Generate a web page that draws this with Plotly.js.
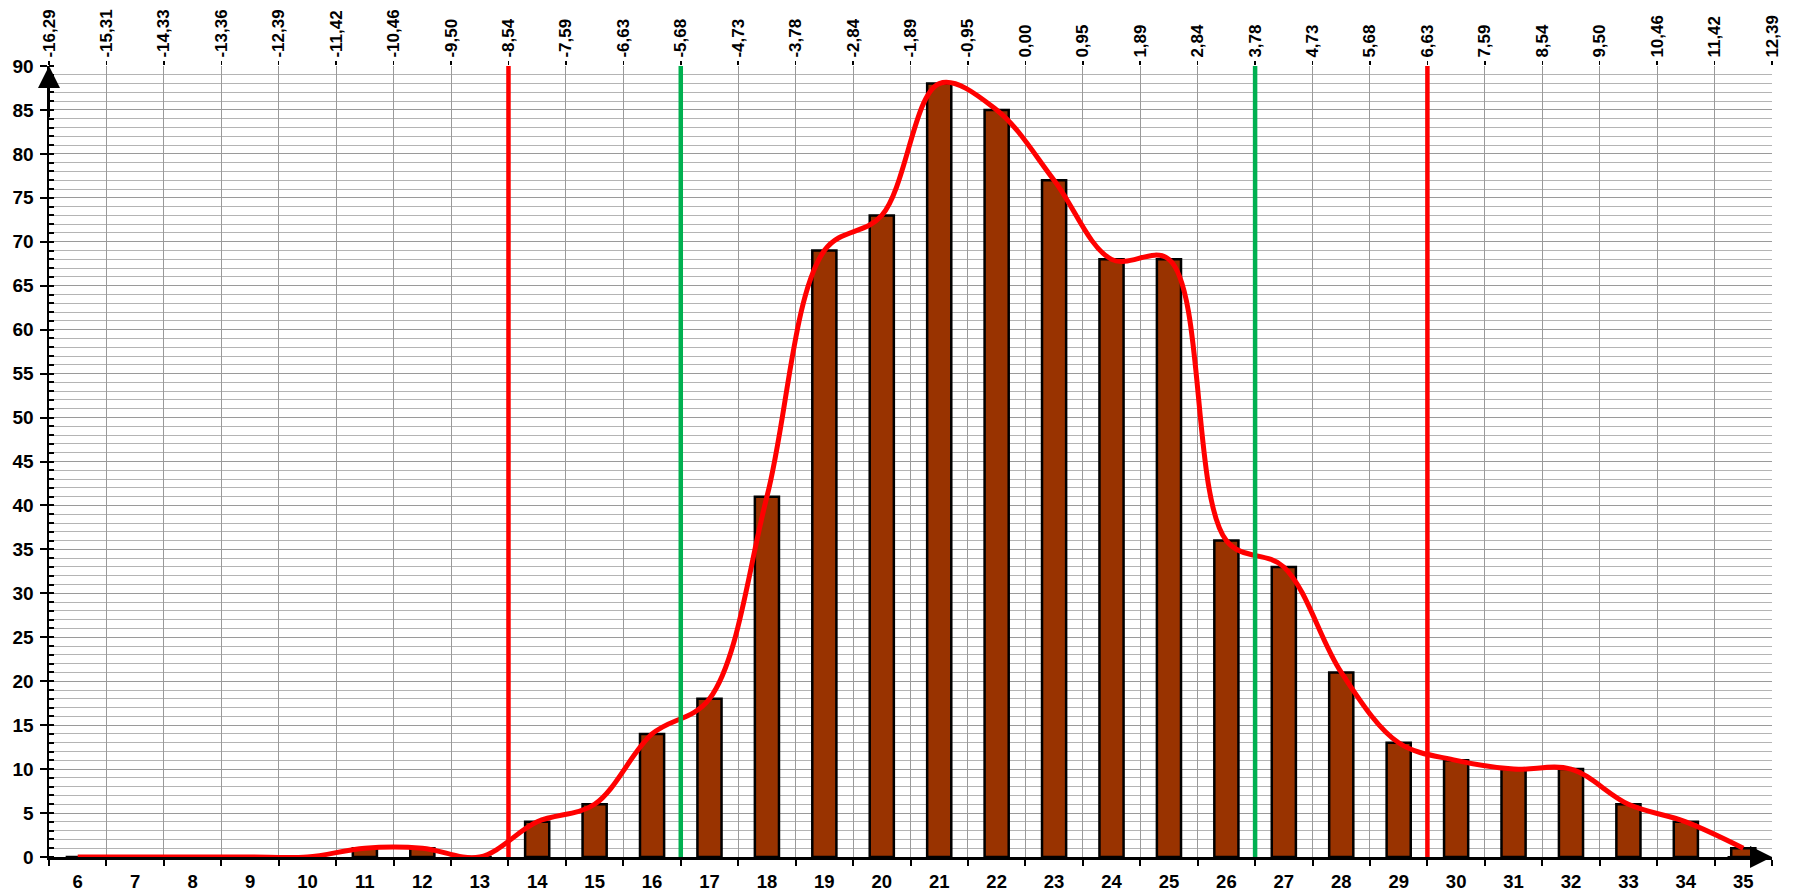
<!DOCTYPE html>
<html><head><meta charset="utf-8">
<script src="https://cdn.plot.ly/plotly-3.0.1.min.js"></script>
<style>html,body{margin:0;padding:0;background:#fff}#chart{width:1794px;height:891px}</style>
</head><body><div id="chart"></div>
<script>
const categories = [6,7,8,9,10,11,12,13,14,15,16,17,18,19,20,21,22,23,24,25,26,27,28,29,30,31,32,33,34,35];
const counts = [0,0,0,0,0,1,1,0,4,6,14,18,41,69,73,88,85,77,68,68,36,33,21,13,11,10,10,6,4,1];
const topLabels = ["-16,29","-15,31","-14,33","-13,36","-12,39","-11,42","-10,46","-9,50","-8,54","-7,59","-6,63","-5,68","-4,73","-3,78","-2,84","-1,89","-0,95","0,00","0,95","1,89","2,84","3,78","4,73","5,68","6,63","7,59","8,54","9,50","10,46","11,42","12,39"];
const redLineLabels = ["-8,54","6,63"];
const greenLineLabels = ["-5,68","3,78"];

const lo = categories[0]-0.5, hi = categories[categories.length-1]+0.5;
const boundaries = topLabels.map((_,i)=>lo+i);
const posOf = lab => boundaries[topLabels.indexOf(lab)];

const fam = "Liberation Sans, Arial, sans-serif";
const font = {family:fam, size:16, color:"#000", weight:700};

const traces = [
 {type:"bar", x:categories, y:counts, width:0.42,
  marker:{color:"#993300", line:{color:"#000", width:2.5}}, hoverinfo:"x+y"},
 {type:"scatter", mode:"lines", x:categories, y:counts,
  line:{color:"#ff0000", width:5, shape:"spline", smoothing:1}},
 {type:"scatter", mode:"markers", x:[boundaries[0]], y:[0], xaxis:"x2", marker:{opacity:0}, showlegend:false, hoverinfo:"skip"}
];

const shapes = [];
redLineLabels.forEach(l=>shapes.push({type:"line", xref:"x", yref:"y", x0:posOf(l), x1:posOf(l), y0:0, y1:90, line:{color:"#ff0000", width:4.5}}));
greenLineLabels.forEach(l=>shapes.push({type:"line", xref:"x", yref:"y", x0:posOf(l), x1:posOf(l), y0:0, y1:90, line:{color:"#00b050", width:4.5}}));

const layout = {
 width:1794, height:891, showlegend:false,
 paper_bgcolor:"#fff", plot_bgcolor:"#fff",
 margin:{l:49, r:22, t:66, b:34},
 font: font,
 bargap:0,
 xaxis:{range:[lo,hi], tickmode:"array", tickvals:categories, ticktext:categories.map(String),
   ticks:"", showgrid:false, zeroline:false, showline:true, linecolor:"#000", linewidth:2.5,
   tickfont:{family:fam, size:18.5, color:"#000", weight:700}, ticklabelstandoff:6,
   minor:{tickmode:"array", tickvals:boundaries, ticks:"outside", ticklen:6, tickwidth:2, tickcolor:"#000", showgrid:false}},
 xaxis2:{overlaying:"x", side:"top", range:[lo,hi], tickmode:"array", tickvals:boundaries, ticktext:topLabels,
   tickangle:-90, ticks:"outside", ticklen:4, tickwidth:1.5, tickcolor:"#000", showgrid:true, gridcolor:"#9a9a9a", gridwidth:1,
   zeroline:false, showline:false, tickfont:{family:fam, size:17, color:"#000", weight:700}},
 yaxis:{range:[0,90], tickmode:"linear", tick0:0, dtick:5, ticks:"outside", ticklen:7, tickwidth:2, tickcolor:"#000",
   showgrid:true, gridcolor:"#9a9a9a", gridwidth:1, zeroline:false, showline:true, linecolor:"#000", linewidth:2.5,
   tickfont:{family:fam, size:19, color:"#000", weight:700}, ticklabelstandoff:2,
   minor:{tickmode:"linear", tick0:0, dtick:1, ticks:"inside", ticklen:5, tickwidth:2, tickcolor:"#000", showgrid:true, gridcolor:"#b4b4b4", gridwidth:1}},
 shapes: shapes,
 annotations:[
  {x:lo, y:90, xref:"x", yref:"y", ax:lo, ay:84, axref:"x", ayref:"y", showarrow:true, arrowhead:2, arrowsize:2.2, arrowwidth:2, arrowcolor:"#000", text:""},
  {x:hi, y:0, xref:"x", yref:"y", ax:hi-0.8, ay:0, axref:"x", ayref:"y", showarrow:true, arrowhead:2, arrowsize:2.2, arrowwidth:2, arrowcolor:"#000", text:""}
 ]
};
Plotly.newPlot("chart", traces, layout, {displayModeBar:false, staticPlot:true});
</script></body></html>
